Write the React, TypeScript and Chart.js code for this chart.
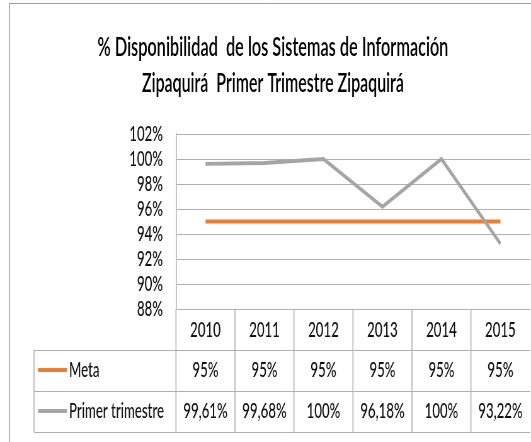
import { useEffect, useRef } from 'react';
import { Chart, registerables } from 'chart.js';

Chart.register(...registerables);

const categories = ['2010', '2011', '2012', '2013', '2014', '2015'];
const metaValues = [95, 95, 95, 95, 95, 95];
const primerValues = [99.61, 99.68, 100, 96.18, 100, 93.22];
const seriesNames = ['Meta', 'Primer trimestre'];
const seriesColors = ['#ED7D31', '#A5A5A5'];
const titleLines = [
  '% Disponibilidad  de los Sistemas de Información',
  'Zipaquirá  Primer Trimestre Zipaquirá',
];
const yMin = 88;
const yMax = 102;
const yStep = 2;

// Horizontal squish factor (reference text is horizontally condensed)
const SX = 0.63;
const CSS_W = 531;
const CSS_H = 442;
const VW = Math.round(CSS_W / SX);
const vx = (x: number) => x / SX;

const GRID = '#B0B0B0';
const BORDER = '#A0A0A0';
const TEXT = '#111111';
const FONT = 'Lato';
const TITLE_WIDTHS = [351, 262];

function fmt(v: number) {
  return (Number.isInteger(v) ? String(v) : v.toFixed(2).replace('.', ',')) + '%';
}

const decor = {
  id: 'decor',
  beforeDraw(chart: any) {
    const ctx = chart.ctx;
    ctx.save();
    ctx.fillStyle = '#fff';
    ctx.fillRect(0, 0, chart.width, chart.height);
    ctx.strokeStyle = BORDER;
    ctx.lineWidth = 1;
    ctx.beginPath();
    ctx.moveTo(vx(9), 3.5);
    ctx.lineTo(chart.width, 3.5);
    ctx.stroke();
    ctx.lineWidth = 1.6;
    ctx.beginPath();
    ctx.moveTo(vx(9.5), 3);
    ctx.lineTo(vx(9.5), chart.height);
    ctx.stroke();
    ctx.fillStyle = '#000';
    ctx.font = `600 26px ${FONT}`;
    ctx.textAlign = 'center';
    ctx.textBaseline = 'alphabetic';
    const baselines = [56, 91.5];
    titleLines.forEach((t, i) => {
      const w = ctx.measureText(t).width;
      const f = Math.min(1, vx(TITLE_WIDTHS[i]) / w);
      ctx.save();
      ctx.translate(vx(273), baselines[i]);
      ctx.scale(f, 1);
      ctx.fillText(t, 0, 0);
      ctx.restore();
    });
    ctx.restore();
  },
  afterDraw(chart: any) {
    const ctx = chart.ctx;
    const { left, right, bottom } = chart.chartArea;
    const xs = chart.scales.x;
    const colW = (right - left) / categories.length;
    const rowH = 41;
    const rows = [bottom, bottom + rowH, bottom + 2 * rowH, bottom + 3 * rowH];
    const tableLeft = vx(34);
    ctx.save();
    ctx.strokeStyle = GRID;
    ctx.lineWidth = 1;
    for (let r = 1; r < rows.length; r++) {
      ctx.beginPath();
      ctx.moveTo(tableLeft, Math.round(rows[r]) + 0.5);
      ctx.lineTo(right, Math.round(rows[r]) + 0.5);
      ctx.stroke();
    }
    ctx.lineWidth = 1.6;
    for (let i = 0; i < categories.length; i++) {
      const x = left + i * colW;
      ctx.beginPath();
      ctx.moveTo(x, rows[0]);
      ctx.lineTo(x, rows[3]);
      ctx.stroke();
    }
    ctx.beginPath();
    ctx.moveTo(tableLeft, rows[1]);
    ctx.lineTo(tableLeft, rows[3]);
    ctx.stroke();

    ctx.fillStyle = TEXT;
    ctx.font = `500 21px ${FONT}`;
    ctx.textAlign = 'center';
    ctx.textBaseline = 'alphabetic';
    categories.forEach((c, i) => {
      ctx.fillText(c, xs.getPixelForValue(i), rows[0] + 27.5);
    });
    const series = [metaValues, primerValues];
    series.forEach((vals, s) => {
      const base = rows[s + 1] + 27;
      ctx.textAlign = 'center';
      ctx.fillStyle = TEXT;
      vals.forEach((v, i) => {
        ctx.fillText(fmt(v), xs.getPixelForValue(i), base);
      });
      ctx.strokeStyle = seriesColors[s];
      ctx.lineWidth = 4;
      ctx.beginPath();
      ctx.moveTo(vx(38), rows[s + 1] + 20);
      ctx.lineTo(vx(67), rows[s + 1] + 20);
      ctx.stroke();
      ctx.textAlign = 'left';
      ctx.fillText(seriesNames[s], vx(69), base);
    });
    ctx.restore();
  },
};

export default function App() {
  const ref = useRef<HTMLCanvasElement>(null);
  useEffect(() => {
    if (!ref.current) return;
    const chart = new Chart(ref.current, {
      type: 'line',
      data: {
        labels: categories,
        datasets: [
          {
            label: seriesNames[0],
            data: metaValues,
            borderColor: seriesColors[0],
            backgroundColor: seriesColors[0],
            borderWidth: 4,
            pointRadius: 0,
            tension: 0,
            order: 2,
          },
          {
            label: seriesNames[1],
            data: primerValues,
            borderColor: seriesColors[1],
            backgroundColor: seriesColors[1],
            borderWidth: 4,
            pointRadius: 0,
            tension: 0,
            order: 1,
          },
        ],
      },
      options: {
        responsive: false,
        animation: false,
        devicePixelRatio: 1,
        layout: { padding: { left: 0, right: VW - vx(530), top: 134, bottom: CSS_H - 309 } },
        plugins: { legend: { display: false }, title: { display: false }, tooltip: { enabled: false } },
        scales: {
          x: { type: 'category', display: false, offset: true },
          y: {
            min: yMin,
            max: yMax,
            afterFit: (scale: any) => {
              scale.width = vx(176);
            },
            ticks: {
              stepSize: yStep,
              autoSkip: false,
              padding: vx(13),
              color: TEXT,
              font: { family: FONT, size: 21, weight: '500' },
              callback: (v: any) => v + '%',
            },
            grid: { color: GRID, lineWidth: 1, drawTicks: false },
            border: { display: true, color: GRID, width: 1.6 },
          },
        },
      },
      plugins: [decor],
    });
    return () => chart.destroy();
  }, []);
  return (
    <div style={{ position: 'fixed', left: 0, top: 0, width: CSS_W, height: CSS_H, background: '#fff' }}>
      <canvas
        ref={ref}
        width={VW}
        height={CSS_H}
        style={{ width: CSS_W, height: CSS_H, display: 'block' }}
      />
    </div>
  );
}
